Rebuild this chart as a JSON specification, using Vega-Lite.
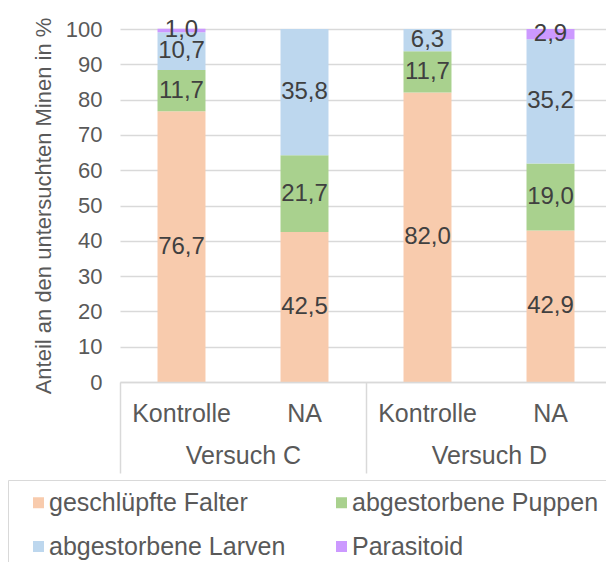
{
  "$schema": "https://vega.github.io/schema/vega-lite/v6.json",
  "width": 486,
  "height": 353,
  "autosize": {"type": "none"},
  "padding": {"left": 120, "top": 29, "right": 0, "bottom": 180},
  "background": "white",
  "config": {
    "view": {"stroke": null},
    "font": "Liberation Sans",
    "locale": {"number": {"decimal": ",", "thousands": ".", "grouping": [3], "currency": ["", " €"]}}
  },
  "data": {
    "values": [
      {"Versuch": "Versuch C", "Variante": "Kontrolle", "Balken": "Versuch C: Kontrolle", "Kategorie": "geschlüpfte Falter", "Anteil": 76.7},
      {"Versuch": "Versuch C", "Variante": "Kontrolle", "Balken": "Versuch C: Kontrolle", "Kategorie": "abgestorbene Puppen", "Anteil": 11.7},
      {"Versuch": "Versuch C", "Variante": "Kontrolle", "Balken": "Versuch C: Kontrolle", "Kategorie": "abgestorbene Larven", "Anteil": 10.7},
      {"Versuch": "Versuch C", "Variante": "Kontrolle", "Balken": "Versuch C: Kontrolle", "Kategorie": "Parasitoid", "Anteil": 1.0},
      {"Versuch": "Versuch C", "Variante": "NA", "Balken": "Versuch C: NA", "Kategorie": "geschlüpfte Falter", "Anteil": 42.5},
      {"Versuch": "Versuch C", "Variante": "NA", "Balken": "Versuch C: NA", "Kategorie": "abgestorbene Puppen", "Anteil": 21.7},
      {"Versuch": "Versuch C", "Variante": "NA", "Balken": "Versuch C: NA", "Kategorie": "abgestorbene Larven", "Anteil": 35.8},
      {"Versuch": "Versuch D", "Variante": "Kontrolle", "Balken": "Versuch D: Kontrolle", "Kategorie": "geschlüpfte Falter", "Anteil": 82.0},
      {"Versuch": "Versuch D", "Variante": "Kontrolle", "Balken": "Versuch D: Kontrolle", "Kategorie": "abgestorbene Puppen", "Anteil": 11.7},
      {"Versuch": "Versuch D", "Variante": "Kontrolle", "Balken": "Versuch D: Kontrolle", "Kategorie": "abgestorbene Larven", "Anteil": 6.3},
      {"Versuch": "Versuch D", "Variante": "NA", "Balken": "Versuch D: NA", "Kategorie": "geschlüpfte Falter", "Anteil": 42.9},
      {"Versuch": "Versuch D", "Variante": "NA", "Balken": "Versuch D: NA", "Kategorie": "abgestorbene Puppen", "Anteil": 19.0},
      {"Versuch": "Versuch D", "Variante": "NA", "Balken": "Versuch D: NA", "Kategorie": "abgestorbene Larven", "Anteil": 35.2},
      {"Versuch": "Versuch D", "Variante": "NA", "Balken": "Versuch D: NA", "Kategorie": "Parasitoid", "Anteil": 2.9}
    ]
  },
  "layer": [
    {
      "layer": [
        {
          "mark": {"type": "bar"},
          "encoding": {
            "x": {
              "field": "Balken", "type": "nominal", "sort": null,
              "scale": {"range": [0, 492], "paddingInner": 0.61, "paddingOuter": 0.305},
              "axis": {
                "title": null, "labelExpr": "split(datum.label, ': ')[1]", "labelAngle": 0,
                "labelFontSize": 25, "labelColor": "#595959", "labelPadding": 19, "labelBaseline": "top",
                "ticks": false, "domain": true, "domainColor": "#d9d9d9", "domainWidth": 1.5, "zindex": 1
              }
            },
            "y": {
              "field": "Anteil", "type": "quantitative", "stack": "zero",
              "scale": {"domain": [0, 100], "nice": false},
              "axis": {
                "values": [0, 10, 20, 30, 40, 50, 60, 70, 80, 90, 100], "labelOverlap": false,
                "domain": false, "ticks": false, "grid": true, "gridColor": "#d9d9d9", "gridWidth": 1.5,
                "labelFontSize": 22, "labelColor": "#595959", "labelPadding": 18,
                "title": "Anteil an den untersuchten Minen in %", "titleFontSize": 22,
                "titleFontWeight": "normal", "titleColor": "#595959", "titlePadding": 10
              }
            },
            "color": {
              "field": "Kategorie", "type": "nominal",
              "sort": ["geschlüpfte Falter", "abgestorbene Puppen", "abgestorbene Larven", "Parasitoid"],
              "scale": {
                "domain": ["geschlüpfte Falter", "abgestorbene Puppen", "abgestorbene Larven", "Parasitoid"],
                "range": ["#F8CBAD", "#A9D18E", "#BDD7EE", "#CC99FF"]
              },
              "legend": {
                "orient": "none", "legendX": -112, "legendY": 451, "columns": 2, "direction": "horizontal", "title": null,
                "labelFontSize": 25, "labelColor": "#595959", "labelLimit": 400,
                "symbolType": "square", "symbolSize": 121, "symbolStrokeWidth": 0,
                "symbolOffset": 8, "labelOffset": -2, "columnPadding": 35, "rowPadding": 18,
                "padding": 10, "strokeColor": "#d9d9d9", "fillColor": "white"
              }
            },
            "order": {"field": "Kategorie", "sort": "descending"}
          }
        },
        {
          "mark": {"type": "text", "fontSize": 24, "color": "#404040", "baseline": "middle"},
          "encoding": {
            "x": {"field": "Balken", "type": "nominal", "sort": null},
            "y": {
              "field": "Anteil", "type": "quantitative", "stack": "zero", "bandPosition": 0.5,
              "axis": {
                "values": [0, 10, 20, 30, 40, 50, 60, 70, 80, 90, 100], "labelOverlap": false,
                "domain": false, "ticks": false, "grid": true, "gridColor": "#d9d9d9", "gridWidth": 1.5,
                "labelFontSize": 22, "labelColor": "#595959", "labelPadding": 18,
                "title": "Anteil an den untersuchten Minen in %", "titleFontSize": 22,
                "titleFontWeight": "normal", "titleColor": "#595959", "titlePadding": 10
              }
            },
            "detail": {"field": "Kategorie", "type": "nominal"},
            "order": {"field": "Kategorie", "sort": "descending"},
            "text": {"field": "Anteil", "type": "quantitative", "format": ".1f"}
          }
        }
      ]
    },
    {
      "mark": {"type": "text", "text": ""},
      "encoding": {
        "x": {
          "field": "Versuch", "type": "nominal",
          "scale": {"range": [0, 492], "paddingInner": 0, "paddingOuter": 0},
          "axis": {
            "orient": "bottom", "title": null, "labelAngle": 0, "labelFontSize": 25, "labelColor": "#595959",
            "labelPadding": -30, "labelBaseline": "top", "ticks": true, "tickBand": "extent",
            "tickSize": 91, "tickColor": "#d9d9d9", "tickWidth": 1.5, "domain": false
          }
        }
      }
    }
  ],
  "resolve": {"scale": {"x": "independent"}}
}
